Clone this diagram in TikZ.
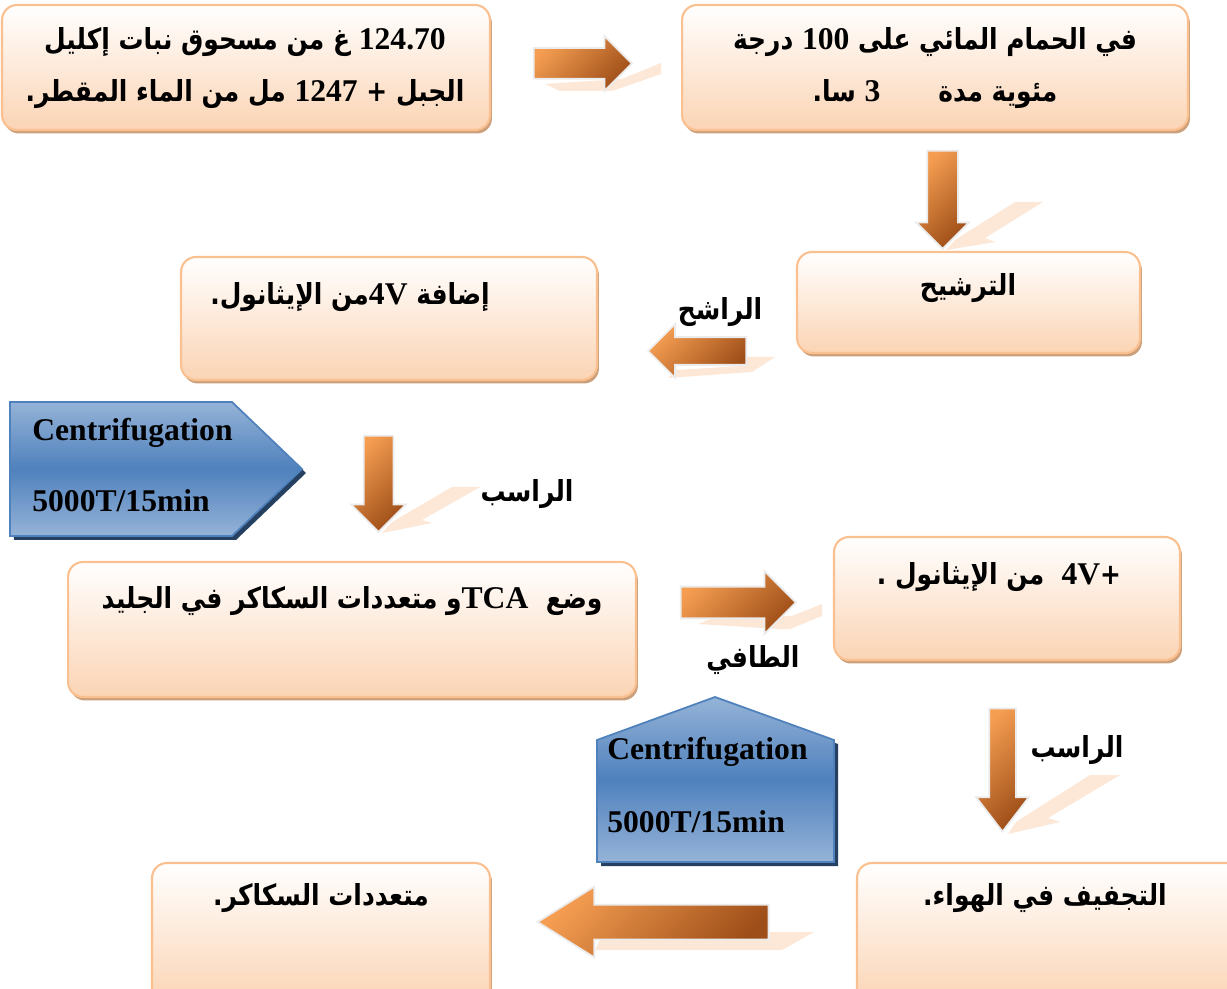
\documentclass[tikz,border=0pt]{standalone}
\usepackage{fontspec}
\setmainfont{Liberation Serif}
\newfontfamily\arabicfont[Script=Arabic, FakeStretch=0.86]{DejaVu Sans}
\TeXXeTstate=1
\usetikzlibrary{positioning,shapes.arrows,shadows}

\definecolor{boxedge}{RGB}{250,192,144}
\definecolor{boxfill}{RGB}{251,212,180}
\definecolor{boxshadow}{RGB}{200,150,110}
\definecolor{arrowlight}{RGB}{245,158,82}
\definecolor{arrowdark}{RGB}{158,78,24}
\definecolor{arrowghost}{RGB}{253,231,214}
\definecolor{bluelight}{RGB}{149,179,215}
\definecolor{bluemid}{RGB}{79,129,189}
\definecolor{blueshadow}{RGB}{38,64,97}

\newcommand{\artxt}[1]{\beginR #1\endR}
\newcommand{\lat}[1]{\beginL{\rmfamily\fontsize{18}{30}\selectfont #1}\endL{}}

\begin{document}
\begin{tikzpicture}[x=0.02cm, y=-0.02cm,
    stepbox/.style={draw=boxedge, line width=1.2pt, rounded corners=0.3cm, top color=white, bottom color=boxfill,
      drop shadow={shadow xshift=0.04cm, shadow yshift=-0.07cm, fill=boxshadow, opacity=0.9}},
    steptext/.style={font=\arabicfont\bfseries\fontsize{16.5}{30}\selectfont, align=center, inner sep=0pt},
    blockarrow/.style={single arrow, draw=white!92!black, line width=1pt, anchor=tip,
      top color=arrowlight, bottom color=arrowdark, shading angle=45},
    spinbox/.style={draw=bluemid, line width=1pt, top color=bluelight, bottom color=bluelight, middle color=bluemid,
      drop shadow={shadow xshift=0.08cm, shadow yshift=-0.08cm, fill=blueshadow, opacity=1}},
    spintext/.style={font=\bfseries\fontsize{18}{20}\selectfont, anchor=west, inner sep=0pt}]

  \fill[white] (0,0) rectangle (1227,989);
  \useasboundingbox (0,0) rectangle (1227,989);

  % boxes
  \node[stepbox, minimum width=9.76cm, minimum height=2.5cm] (mix) at (246,67.5) {};
  \node[stepbox, minimum width=10.12cm, minimum height=2.5cm] (bath) at (935,67.5) {};
  \node[stepbox, minimum width=6.86cm, minimum height=2.02cm] (filt) at (968.5,302.5) {};
  \node[stepbox, minimum width=8.32cm, minimum height=2.46cm] (etoh) at (389,318.5) {};
  \node[stepbox, minimum width=11.36cm, minimum height=2.7cm] (tca) at (352,629.5) {};
  \node[stepbox, minimum width=6.92cm, minimum height=2.46cm] (etoh2) at (1007,598.5) {};
  \node[stepbox, minimum width=7.76cm, minimum height=2.84cm] (dry) at (1051,934) {};
  \node[stepbox, minimum width=6.76cm, minimum height=2.84cm] (poly) at (321,934) {};

  % box texts
  \node[steptext] (mixtxt) at (245,68) {\artxt{\lat{124.70} غ من مسحوق نبات إكليل}\\\artxt{الجبل + \lat{1247} مل من الماء المقطر.}};
  \node[steptext] (bathtxt) at (935,68) {\artxt{في الحمام المائي على \lat{100} درجة}\\\artxt{مئوية مدة\quad\quad \lat{3} سا.}};
  \node[steptext] (filttxt) at (968,288) {\artxt{الترشيح}};
  \node[steptext] (etohtxt) at (350,297) {\artxt{إضافة \lat{4V}من الإيثانول.}};
  \node[steptext] (tcatxt) at (352,601) {\artxt{وضع\ \ \lat{TCA}و متعددات السكاكر في الجليد}};
  \node[steptext] (etoh2txt) at (999,577) {\artxt{+\lat{4V}\ \ من الإيثانول .}};
  \node[steptext] (drytxt) at (1045,898) {\artxt{التجفيف في الهواء.}};
  \node[steptext] (polytxt) at (321,898) {\artxt{متعددات السكاكر.}};

  % centrifugation shapes
  \draw[spinbox] (10,402) -- (232,402) -- (302,469) -- (232,536) -- (10,536) -- cycle;
  \node[spintext] (spin1a) at (32,433) {Centrifugation};
  \node[spintext] (spin1b) at (32,501) {5000T/15min};
  \draw[spinbox] (597,740) -- (715,697) -- (834,740) -- (834,862) -- (597,862) -- cycle;
  \node[spintext] (spin2a) at (607,752) {Centrifugation};
  \node[spintext] (spin2b) at (607,822) {5000T/15min};

  % ghost reflections of the arrows
  \fill[arrowghost] (545,84) -- (622,79) -- (661,63) -- (661,74) -- (612,91) -- (560,91) -- cycle;
  \fill[arrowghost] (946,250) -- (995,242) -- (985,238) -- (1043,202) -- (1015,202) -- (955,240) -- cycle;
  \fill[arrowghost] (668,378) -- (752,372) -- (775,357) -- (742,357) -- (742,366) -- (676,370) -- cycle;
  \fill[arrowghost] (382,533) -- (432,523) -- (422,520) -- (480,487) -- (452,487) -- (392,522) -- cycle;
  \fill[arrowghost] (698,624) -- (718,616) -- (792,616) -- (822,604) -- (822,616) -- (790,629) -- (780,629) -- cycle;
  \fill[arrowghost] (1008,834) -- (1060,822) -- (1048,818) -- (1120,775) -- (1090,775) -- (1016,822) -- cycle;
  \fill[arrowghost] (595,950) -- (782,950) -- (814,932) -- (770,932) -- (770,940) -- (600,940) -- cycle;

  % block arrows, placed by their tips
  \node[blockarrow, inner sep=0.29cm, minimum height=1.96cm, minimum width=1.06cm, single arrow head extend=0.24cm] (toBath) at (633,63.5) {};
  \node[blockarrow, shape border rotate=270, inner sep=0.29cm, minimum height=1.96cm, minimum width=1.02cm, single arrow head extend=0.22cm] (toFilt) at (942.5,250) {};
  \node[blockarrow, shape border rotate=180, inner sep=0.26cm, minimum height=1.96cm, minimum width=1.04cm, single arrow head extend=0.26cm] (toEtoh) at (647,351) {};
  \node[blockarrow, shape border rotate=270, inner sep=0.28cm, minimum height=1.92cm, minimum width=1.06cm, single arrow head extend=0.25cm] (toTca) at (378.5,533) {};
  \node[blockarrow, inner sep=0.3cm, minimum height=2.3cm, minimum width=1.22cm, single arrow head extend=0.31cm] (toEtohB) at (797,602.5) {};
  \node[blockarrow, shape border rotate=270, inner sep=0.25cm, minimum height=2.46cm, minimum width=1.02cm, single arrow head extend=0.26cm, single arrow tip angle=75] (toDry) at (1002.5,833) {};
  \node[blockarrow, shape border rotate=180, inner sep=0.33cm, minimum height=4.62cm, minimum width=1.38cm, single arrow head extend=0.36cm, single arrow tip angle=64] (toPoly) at (536,922) {};

  % arrow labels
  \node[steptext] (lblFiltrate) at (720,312) {\artxt{الراشح}};
  \node[steptext] (lblPellet) at (527,494) {\artxt{الراسب}};
  \node[steptext] (lblSuper) at (753,660) {\artxt{الطافي}};
  \node[steptext] (lblPellet2) at (1077,750) {\artxt{الراسب}};
\end{tikzpicture}
\end{document}
